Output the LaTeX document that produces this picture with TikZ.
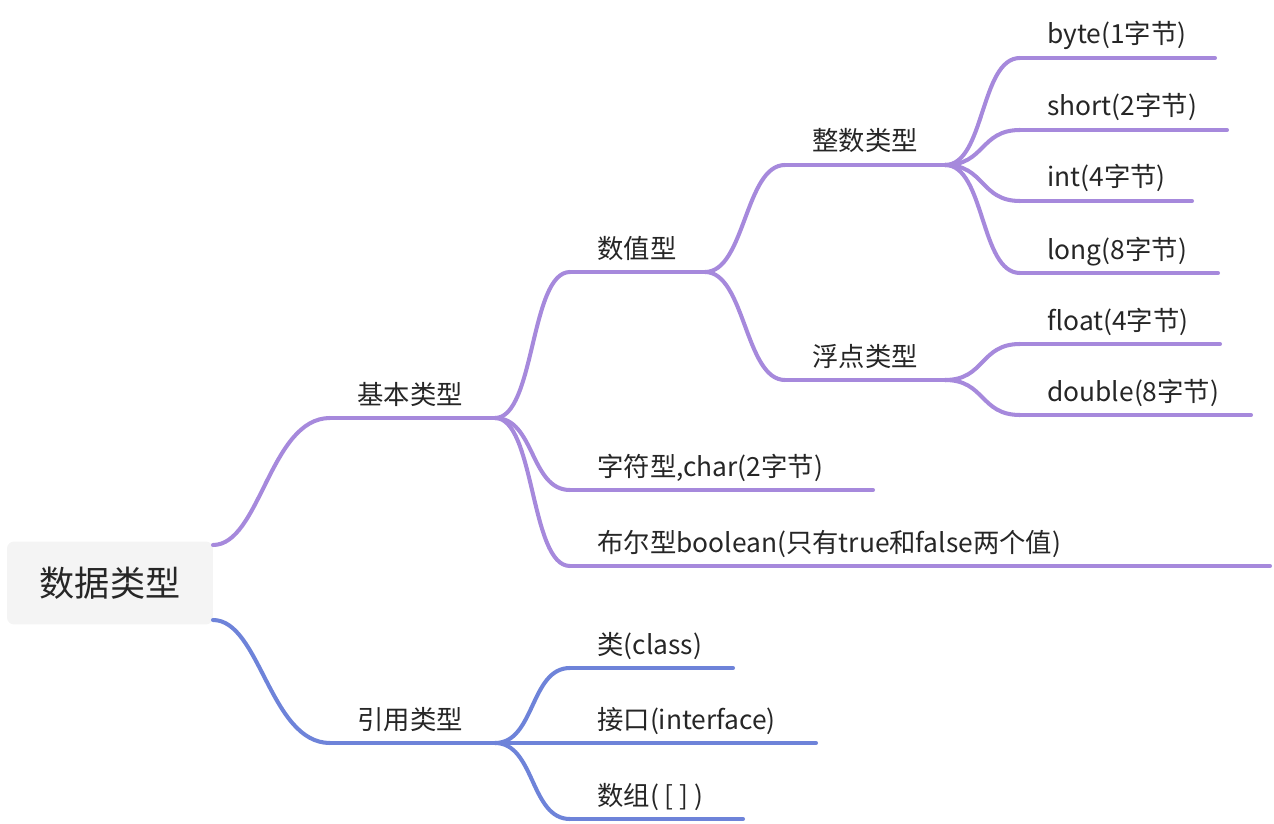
\documentclass[tikz,border=0pt]{standalone}
\usepackage{fontspec}
\setmainfont{Noto Sans CJK SC}
\definecolor{purp}{HTML}{A689DC}
\definecolor{blu}{HTML}{6E83D9}
\definecolor{rootbg}{HTML}{F4F4F4}
\tikzset{
  lbl/.style={anchor=base west,inner sep=0pt,font=\fontsize{15}{15}\selectfont,text=black!85},
  br/.style={line width=2.3pt,line cap=round},
}
% branch: name, x start, x end, y, text
\newcommand{\mmbranch}[5]{%
  \coordinate (#1-s) at (#2,#4);
  \coordinate (#1-e) at (#3,#4);
  \node[lbl] (#1) at (#2+27,#4-14) {#5};}
\newcommand{\mmlink}[2]{%
  \path let \p1=(#1), \p2=(#2) in coordinate (m) at ({0.5*(\x1+\x2)},0);
  \draw (#1) .. controls ($(#1)!0.5!(#2)$ |- #1) and ($(#1)!0.5!(#2)$ |- #2) .. (#2);}
\usetikzlibrary{calc}
\begin{document}
\begin{tikzpicture}[x=0.02cm,y=-0.02cm]
  \useasboundingbox (0,0) rectangle (1274,824);
  \node[fill=rootbg,rounded corners=4pt,minimum width=4.12cm,minimum height=1.66cm,
        font=\fontsize{20}{20}\selectfont,text=black!85] (root) at (110,583) {数据类型};
  \coordinate (root-a) at (213,545);
  \coordinate (root-b) at (213,620);
  % level 1
  \mmbranch{basic}{330}{495}{418}{基本类型}
  \mmbranch{ref}{330}{495}{743}{引用类型}
  % level 2
  \mmbranch{num}{570}{705}{272}{数值型}
  \mmbranch{chr}{570}{873}{490}{字符型,char(2字节)}
  \mmbranch{bool}{570}{1270}{566}{布尔型boolean(只有true和false两个值)}
  \mmbranch{cls}{570}{733}{668}{类(class)}
  \mmbranch{ifc}{570}{816}{743}{接口(interface)}
  \mmbranch{arr}{570}{743}{819}{数组( [ ] )}
  % level 3
  \mmbranch{int}{785}{945}{165}{整数类型}
  \mmbranch{flt}{785}{945}{380}{浮点类型}
  % level 4
  \mmbranch{byte}{1020}{1215}{58}{byte(1字节)}
  \mmbranch{short}{1020}{1227}{130}{short(2字节)}
  \mmbranch{i4}{1020}{1192}{201}{int(4字节)}
  \mmbranch{long}{1020}{1218}{273}{long(8字节)}
  \mmbranch{float}{1020}{1220}{344}{float(4字节)}
  \mmbranch{dbl}{1020}{1251}{415}{double(8字节)}
  % connectors
  \begin{scope}[br,draw=purp]
    \foreach \n in {basic,num,chr,bool,int,flt,byte,short,i4,long,float,dbl}
      \draw (\n-s) -- (\n-e);
    \draw (root-a) .. controls (260,545) and (270,418) .. (basic-s);
    \foreach \c in {num,chr,bool}
      \draw (basic-e) .. controls ($(basic-e)+(40,0)$) and ($(\c-s)+(-40,0)$) .. (\c-s);
    \foreach \c in {int,flt}
      \draw (num-e) .. controls ($(num-e)+(40,0)$) and ($(\c-s)+(-40,0)$) .. (\c-s);
    \foreach \c in {byte,short,i4,long}
      \draw (int-e) .. controls ($(int-e)+(40,0)$) and ($(\c-s)+(-40,0)$) .. (\c-s);
    \foreach \c in {float,dbl}
      \draw (flt-e) .. controls ($(flt-e)+(40,0)$) and ($(\c-s)+(-40,0)$) .. (\c-s);
  \end{scope}
  \begin{scope}[br,draw=blu]
    \foreach \n in {ref,cls,ifc,arr}
      \draw (\n-s) -- (\n-e);
    \draw (root-b) .. controls (260,620) and (270,743) .. (ref-s);
    \foreach \c in {cls,ifc,arr}
      \draw (ref-e) .. controls ($(ref-e)+(40,0)$) and ($(\c-s)+(-40,0)$) .. (\c-s);
  \end{scope}
\end{tikzpicture}
\end{document}
